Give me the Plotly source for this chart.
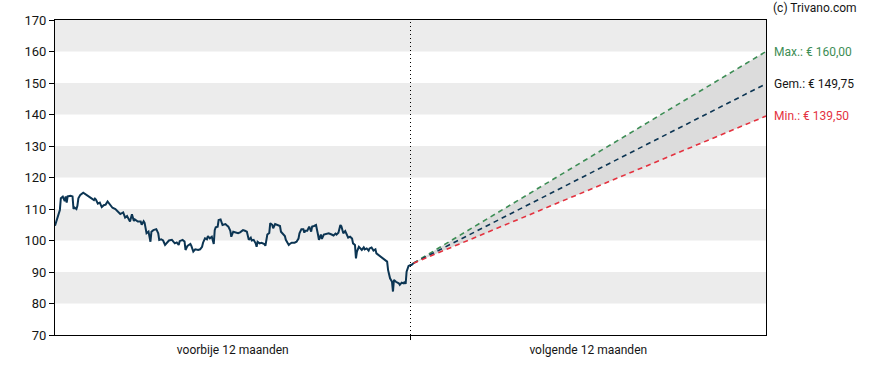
import plotly.graph_objects as go

# ---- data ----
days = [0, 3, 5, 6, 8, 10, 11, 12, 13, 16, 18, 19, 20, 22, 23, 24, 26, 29, 33, 36,
        40, 41, 42, 44, 46, 48, 50, 52, 54, 57, 59, 62, 65, 67, 70, 72, 74, 76, 77, 79,
        81, 82, 85, 88, 89, 91, 92, 94, 96, 98, 99, 101, 103, 104, 106, 107, 109, 111, 113, 115,
        117, 120, 121, 123, 125, 127, 128, 131, 133, 134, 136, 139, 140, 142, 144, 147, 149, 151, 152, 154,
        156, 157, 159, 161, 163, 164, 165, 167, 168, 170, 172, 175, 176, 178, 180, 181, 183, 186, 188, 190,
        191, 193, 195, 197, 199, 201, 202, 204, 206, 207, 208, 210, 212, 215, 216, 218, 220, 221, 223, 224,
        226, 228, 231, 232, 234, 236, 237, 240, 241, 243, 246, 248, 250, 251, 253, 255, 256, 257, 259, 261,
        263, 264, 266, 268, 270, 271, 273, 274, 276, 279, 281, 284, 286, 288, 289, 291, 293, 294, 296, 298,
        300, 301, 303, 305, 306, 308, 309, 310, 312, 315, 317, 318, 320, 322, 323, 325, 327, 329, 330, 334,
        337, 341, 342, 344, 346, 347, 348, 350, 353, 354, 356, 358, 359, 360, 361, 363, 365, 366, 368]
prices = [104.7, 107.5, 109.7, 113.4, 113.9, 112.5, 114.0, 112.0, 114.0, 114.2, 114.0, 110.0, 110.5, 110.0, 111.0, 113.4, 114.5, 115.2, 114.5, 113.7,
          112.8, 113.3, 113.0, 111.7, 112.0, 110.6, 111.2, 111.4, 112.4, 111.2, 110.4, 110.0, 109.2, 108.4, 108.9, 107.3, 107.8, 106.2, 106.0, 108.3,
          106.2, 106.7, 106.0, 106.0, 105.0, 106.1, 105.6, 102.3, 102.8, 99.6, 102.8, 103.3, 103.5, 103.6, 102.3, 100.2, 100.4, 100.0, 98.6, 99.3,
          100.0, 100.2, 99.7, 99.1, 99.4, 98.6, 99.8, 100.2, 99.7, 97.0, 98.3, 98.9, 98.3, 96.5, 97.2, 97.0, 97.2, 98.0, 99.3, 100.7,
          100.4, 101.4, 100.7, 101.2, 98.9, 103.3, 104.2, 104.4, 106.5, 106.7, 104.9, 105.2, 104.9, 104.4, 103.1, 101.2, 102.8, 102.5, 102.3, 102.6,
          102.8, 103.3, 103.1, 102.8, 100.2, 100.9, 100.0, 100.2, 99.1, 98.0, 99.6, 99.1, 99.3, 98.9, 98.3, 101.9, 102.4, 105.5, 105.0, 103.9,
          105.2, 104.9, 104.6, 102.8, 102.1, 101.4, 100.2, 98.6, 98.9, 99.3, 99.3, 99.6, 100.6, 102.3, 103.6, 103.6, 102.5, 103.1, 103.1, 104.4,
          102.8, 104.4, 104.6, 104.9, 101.9, 100.2, 101.9, 100.5, 101.9, 102.1, 102.3, 101.9, 101.6, 102.2, 101.9, 102.5, 104.9, 104.5, 102.3, 103.0,
          101.2, 100.9, 101.2, 100.6, 99.1, 98.6, 94.3, 96.5, 98.0, 97.0, 97.8, 97.2, 97.5, 96.8, 97.5, 97.8, 96.8, 97.2, 95.9, 94.9,
          94.4, 93.3, 90.6, 88.0, 86.9, 83.8, 87.5, 86.9, 86.4, 85.9, 86.6, 86.4, 86.9, 86.2, 90.1, 91.9, 92.2, 92.2, 92.8]

forecast_days = [368, 730]
target_max = 160.00
target_avg = 149.75
target_min = 139.50

period_labels = ["voorbije 12 maanden", "volgende 12 maanden"]
period_centers = [182.5, 547.5]
y_ticks = [70, 80, 90, 100, 110, 120, 130, 140, 150, 160, 170]
band_ranges = [(80, 90), (100, 110), (120, 130), (140, 150), (160, 170)]

GREEN = "#3d8d55"
NAVY = "#0c3553"
RED = "#e4323f"
FONT = "Roboto"
TEXT = "#151515"

last_price = prices[-1]

fig = go.Figure()

# forecast range fill (min then max, fill between)
fig.add_trace(go.Scatter(x=forecast_days, y=[last_price, target_min], mode="lines",
                         line=dict(color="rgba(0,0,0,0)", width=0), hoverinfo="skip", showlegend=False))
fig.add_trace(go.Scatter(x=forecast_days, y=[last_price, target_max], mode="lines", fill="tonexty",
                         fillcolor="#dcdcdc", line=dict(color="rgba(0,0,0,0)", width=0),
                         hoverinfo="skip", showlegend=False))

# forecast lines
for val, col in [(target_max, GREEN), (target_avg, NAVY), (target_min, RED)]:
    fig.add_trace(go.Scatter(x=forecast_days, y=[last_price, val], mode="lines",
                             line=dict(color=col, width=1.6, dash="5px,4px"), showlegend=False))

# price line
fig.add_trace(go.Scatter(x=days, y=prices, mode="lines",
                         line=dict(color=NAVY, width=2), showlegend=False))

shapes = []
for lo, hi in band_ranges:
    shapes.append(dict(type="rect", xref="paper", yref="y", x0=0, x1=1, y0=lo, y1=hi,
                       fillcolor="#ececec", line=dict(width=0), layer="below"))
shapes.append(dict(type="line", xref="x", yref="paper", x0=365, x1=365, y0=0, y1=1,
                   line=dict(color="#000000", width=1, dash="1px,3px")))
shapes.append(dict(type="line", xref="x", yref="paper", x0=365, x1=365, y0=0, y1=-0.016,
                   line=dict(color="#000000", width=1)))

annotations = [
    dict(xref="paper", yref="y", x=1, y=target_max, xshift=6, xanchor="left", yanchor="middle",
         text="Max.: € 160,00", showarrow=False, font=dict(family=FONT, size=12, color=GREEN)),
    dict(xref="paper", yref="y", x=1, y=target_avg, xshift=6, xanchor="left", yanchor="middle",
         text="Gem.: € 149,75", showarrow=False, font=dict(family=FONT, size=12, color=TEXT)),
    dict(xref="paper", yref="y", x=1, y=target_min, xshift=6, xanchor="left", yanchor="middle",
         text="Min.: € 139,50", showarrow=False, font=dict(family=FONT, size=12, color=RED)),
    dict(xref="paper", yref="paper", x=1, y=1, xshift=5, yshift=12, xanchor="left", yanchor="middle",
         text="(c) Trivano.com", showarrow=False, font=dict(family=FONT, size=12, color=TEXT)),
]

fig.update_layout(
    width=888, height=370,
    margin=dict(l=55, r=122, t=20, b=35),
    paper_bgcolor="white", plot_bgcolor="white",
    font=dict(family=FONT, size=12, color=TEXT),
    shapes=shapes, annotations=annotations,
    showlegend=False,
)
fig.update_xaxes(range=[0, 730], tickvals=period_centers, ticktext=period_labels, ticks="",
                 ticklabelstandoff=4,
                 showgrid=False, zeroline=False, showline=True, linecolor="#000000", linewidth=1,
                 mirror=True, tickfont=dict(family=FONT, size=12, color=TEXT))
fig.update_yaxes(range=[70, 170], tickvals=y_ticks, ticks="outside", ticklen=5, tickcolor="#000000",
                 showgrid=False, zeroline=False, showline=True, linecolor="#000000", linewidth=1,
                 mirror=True, tickfont=dict(family=FONT, size=13, color=TEXT))

fig.write_html("out.html", config={"displayModeBar": False},
               post_script="document.body.style.margin='0';document.body.style.overflow='hidden';")
